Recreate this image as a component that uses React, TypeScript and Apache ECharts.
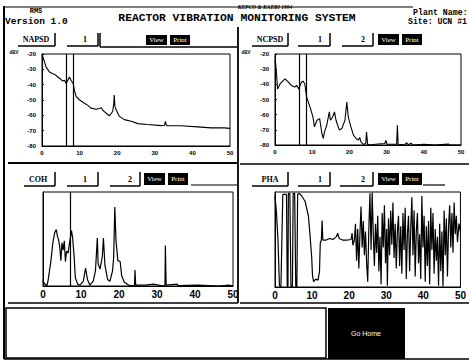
import React, { useEffect, useRef } from "react";
import * as echarts from "echarts";

// ---- data ----
const napsd: [number, number][] = [
  [0, -20], [0.5, -24], [1.1, -28.6], [2.0, -31.8], [2.9, -32.8], [3.5, -33.5], [4.2, -35], [5.0, -36.5],
  [5.5, -37.6], [6.0, -37.1], [6.4, -39.3], [7.3, -35], [7.7, -37.1], [8.3, -39.3], [8.6, -43.6],
  [9.1, -47.8], [10, -50], [11.3, -52.1], [12.2, -53.5], [13, -55.3], [14.4, -56], [15.3, -55.5],
  [15.8, -55], [16.1, -56.4], [17, -58.5], [17.9, -60.3], [18.8, -57.5], [19.1, -52], [19.2, -46.8],
  [19.4, -54], [19.7, -56.4], [20.6, -60.7], [21.9, -62.8], [23.7, -63.9], [25.5, -65.4],
  [28.1, -66], [31.7, -66.7], [32.6, -66.5], [32.8, -63.9], [33.1, -66.5], [33.4, -66.8],
  [37, -66.8], [41.4, -67.5], [45, -68.2], [48.5, -68.2], [50, -68.5],
];

const ncpsd: [number, number][] = [
  [0, -26], [0.1, -24], [0.4, -33], [0.7, -43], [1.4, -39.6], [2.7, -36.4], [3.6, -38.6], [4.4, -40.7],
  [5.3, -41.8], [5.8, -40.7], [6.4, -43], [7.1, -38.6], [7.5, -37.9], [8.0, -39.6], [8.5, -48.4],
  [9.4, -54.9], [10.2, -61.5], [10.6, -68], [11.3, -63.7], [12.0, -62.6], [12.6, -72.4], [13.0, -75.7],
  [13.3, -71.3], [13.9, -67], [14.6, -58.2], [14.9, -63.7], [15.5, -61.5], [16.0, -58.2], [16.4, -63.7],
  [17.3, -70.2], [18.0, -69], [18.8, -63.7], [19.3, -51.7], [19.7, -61.5], [20.4, -68], [21.1, -73.5],
  [21.8, -75.7], [22.4, -76.8], [22.8, -75], [23.1, -78], [23.8, -79.6], [24.4, -79], [24.6, -71.3],
  [24.9, -79.6], [25.5, -80], [27.0, -79.5], [29.5, -79], [29.8, -77], [30.1, -79.5], [32.0, -79.5],
  [32.7, -79.5], [32.9, -67], [33.1, -79.8], [35.0, -79.5], [35.4, -78.5], [35.8, -79.8], [36.6, -78.8],
  [37.0, -80], [40.0, -79.6], [43.0, -80], [46.6, -79.4], [47.0, -80], [50, -80],
];

const coh: [number, number][] = [
  [0, 0.07], [0.1, 0.04], [1.0, 0], [1.3, 0.05], [2.0, 0.24], [2.6, 0.46], [3.1, 0.57], [3.5, 0.6],
  [3.8, 0.53], [4.1, 0.49], [4.4, 0.42], [4.7, 0.27], [5.0, 0.46], [5.3, 0.38], [5.6, 0.48], [5.9, 0.26],
  [6.2, 0.37], [6.6, 0.35], [7.1, 0.49], [7.5, 0.59], [7.8, 0.51], [8.2, 0.31], [8.5, 0.09], [9.1, 0.02],
  [9.7, 0.01], [10.6, 0.05], [11.2, 0.19], [11.7, 0.07], [12.3, 0.01], [13.2, 0.05], [13.8, 0.16],
  [14.3, 0.51], [14.5, 0.24], [15.0, 0.18], [15.6, 0.31], [15.9, 0.51], [16.3, 0.22], [17.0, 0.07],
  [17.6, 0.05], [18.3, 0.16], [18.6, 0.31], [18.9, 0.84], [19.2, 0.49], [19.7, 0.27], [20.3, 0.26],
  [20.7, 0.11], [21.4, 0.04], [22.5, 0.01], [23.8, 0], [24.1, 0.01], [24.2, 0.17], [24.4, 0.01],
  [26.9, 0.01], [29.1, 0.02], [31.7, 0], [32.1, 0.01], [32.2, 0.43], [32.4, 0.01], [35.3, 0.02],
  [35.6, 0.005], [40.9, 0.01], [46.2, 0], [48.9, 0.01], [50, 0],
];

const pha: [number, number][] = [
  [0, 165], [0.4, 100], [0.8, 0], [1.2, -175], [1.6, -178], [2.1, 170], [2.6, 172], [3.1, 170],
  [3.3, -178], [3.5, -175], [3.6, 175], [4.0, 175], [4.3, -178], [4.7, -178], [4.9, 175], [5.3, 175],
  [5.6, -178], [5.9, -178], [6.1, 172], [6.6, 174], [7.2, 165], [8.1, 145], [9.0, 90], [9.4, 24],
  [9.9, -68], [10.1, -134], [10.4, -160], [11.0, -150], [11.6, -154], [12.0, -120], [12.2, -15],
  [12.5, -2], [12.7, 72], [12.9, -2], [13.8, -2], [14.7, 4], [15.6, 0], [16.5, 10], [16.9, 24],
  [17.3, 4], [18.2, -2], [19.6, -2], [20.5, 0], [20.8, 24], [21.0, -22], [21.4, -2],
  [21.7, 60], [22.0, -80], [22.3, 40], [22.6, -110], [22.9, 20], [23.2, 125], [23.5, -30], [23.8, 70],
  [24.1, -60], [24.4, 30], [24.7, -90], [25.0, -160], [25.3, 40], [25.6, 175], [25.9, -40], [26.2, 178],
  [26.5, 20], [26.8, -100], [27.1, 60], [27.4, -50], [27.7, 90], [28.0, -120], [28.3, 10], [28.6, -170],
  [28.9, 100], [29.2, -30], [29.5, 130], [29.8, -90], [30.1, 40], [30.3, -175], [30.6, 80], [30.9, -60],
  [31.2, 110], [31.5, -20], [31.8, 140], [32.1, -70], [32.4, 60], [32.7, -110], [33.0, 30], [33.3, 90],
  [33.6, -100], [33.9, 50], [34.2, -130], [34.5, 100], [34.8, -40], [35.1, 120], [35.4, -150], [35.7, 20],
  [36.0, 90], [36.3, -120], [36.6, 40], [36.9, 160], [37.2, -60], [37.5, 110], [37.8, -140], [38.1, 30],
  [38.4, 100], [38.7, -90], [39.0, 20], [39.3, -150], [39.6, 165], [39.9, -30], [40.2, 90], [40.5, -160],
  [40.8, 50], [41.1, -100], [41.4, 70], [41.7, -170], [42.0, 120], [42.3, -40], [42.6, 100], [42.9, -130],
  [43.2, 40], [43.5, -80], [43.8, 10], [44.1, -175], [44.4, 60], [44.7, -120], [45.0, 30], [45.3, -178],
  [45.6, 110], [45.9, -60], [46.2, 80], [46.5, -140], [46.8, 50], [47.1, 130], [47.4, -30], [47.7, 100],
  [48.0, -50], [48.3, 140], [48.6, 20], [48.9, 90], [49.2, -10], [49.6, 60], [50, 30],
];

const psdCursors = [6.4, 8.3];
const cohCursors = [7.2];

const panelNames = ["NAPSD", "NCPSD", "COH", "PHA"];
const channelOne = "1";
const channelTwo = "2";
const titleText = "REACTOR VIBRATION MONITORING SYSTEM";

const MONO = "'Liberation Mono', 'DejaVu Sans Mono', monospace";
const SERIF = "'Liberation Serif', 'DejaVu Serif', serif";
const SANS = "'Liberation Sans', Arial, sans-serif";

function txt(x: number, y: number, text: string, font: string, fill = "#000", align = "center") {
  return {
    type: "text",
    x,
    y,
    z: 10,
    style: { text, font, fill, textAlign: align, textVerticalAlign: "middle", verticalAlign: "middle" },
  };
}
function ln(x1: number, y1: number, x2: number, y2: number, w = 1.5) {
  return { type: "line", z: 10, shape: { x1, y1, x2, y2 }, style: { stroke: "#000", lineWidth: w } };
}
function box(x: number, y: number, width: number, height: number, fill = "#000", stroke?: string) {
  return {
    type: "rect",
    z: 9,
    shape: { x, y, width, height },
    style: stroke ? { fill, stroke, lineWidth: 1.5 } : { fill },
  };
}
function button(x1: number, x2: number, y1: number, y2: number, label: string, tx: number) {
  return [
    ln(x2, y1, x2, y2, 1.5),
    ln(x1, y2, x2, y2, 1.5),
    txt(tx, (y1 + y2) / 2, label, `bold 8px ${SERIF}`),
  ];
}
function viewPrint(x: number, y1: number, y2: number) {
  return [
    box(x, y1, 21, y2 - y1),
    box(x + 24, y1, 20, y2 - y1),
    txt(x + 10.5, (y1 + y2) / 2, "View", `7px ${SERIF}`, "#fff"),
    txt(x + 34, (y1 + y2) / 2, "Print", `7px ${SERIF}`, "#fff"),
  ];
}

export default function App() {
  const ref = useRef<HTMLDivElement>(null);
  useEffect(() => {
    if (!ref.current) return;
    const chart = echarts.init(ref.current, undefined, { renderer: "svg" });

    const grids = [
      { left: 42, top: 54, width: 188, height: 92 },
      { left: 275, top: 54, width: 186, height: 91 },
      { left: 43, top: 192, width: 190, height: 94 },
      { left: 275, top: 192, width: 186, height: 95 },
    ].map((g) => ({ ...g, show: true, borderColor: "#000", borderWidth: 1, backgroundColor: "#fff" }));

    const smallLabel = { fontSize: 6, fontWeight: "bold", fontFamily: SANS, color: "#000" };
    const bigLabel = { fontSize: 10, fontWeight: "bold", fontFamily: SANS, color: "#000" };

    const xAxes = [0, 1, 2, 3].map((i) => ({
      type: "value",
      gridIndex: i,
      min: 0,
      max: 50,
      interval: 10,
      axisLine: { show: true, onZero: false, lineStyle: { color: "#000", width: 1 } },
      axisTick: { show: false },
      splitLine: { show: false },
      axisLabel: i < 2 ? { ...smallLabel, margin: 4 } : { ...bigLabel, margin: 3 },
    }));
    const yAxes = [
      { min: -80, max: -20, interval: 10, labels: true },
      { min: -80, max: -20, interval: 10, labels: true },
      { min: 0, max: 1, interval: 0.5, labels: false },
      { min: -180, max: 180, interval: 90, labels: false },
    ].map((a, i) => ({
      type: "value",
      gridIndex: i,
      min: a.min,
      max: a.max,
      interval: a.interval,
      axisLine: { show: true, onZero: false, lineStyle: { color: "#000", width: 1 } },
      axisTick: { show: a.labels, inside: true, length: 2, lineStyle: { color: "#000" } },
      splitLine: { show: false },
      axisLabel: a.labels ? { ...smallLabel, margin: 6 } : { show: false },
    }));

    const mk = (vals: number[]) => ({
      symbol: "none",
      silent: true,
      label: { show: false },
      lineStyle: { color: "#000", type: "solid", width: 1.2 },
      data: vals.map((v) => ({ xAxis: v })),
    });

    const datasets = [napsd, ncpsd, coh, pha];
    const series = datasets.map((d, i) => ({
      type: "line",
      xAxisIndex: i,
      yAxisIndex: i,
      data: d,
      showSymbol: false,
      symbol: "none",
      lineStyle: { color: "#000", width: i < 2 ? 1.1 : 1.2 },
      markLine: i < 2 ? mk(psdCursors) : i === 2 ? mk(cohCursors) : undefined,
    }));

    const topY1 = 33, topY2 = 46, botY1 = 172, botY2 = 186;
    const graphic: any[] = [
      // frame
      ln(4, 6, 4, 359, 2),
      ln(4, 7, 413, 7, 1.2),
      ln(4, 359, 469, 359, 1.5),
      ln(238, 27, 238, 303, 1.8),
      ln(8, 163, 238, 163, 1.8),
      ln(240, 164, 469, 164, 1.5),
      ln(8, 303, 238, 303, 1.5),
      ln(240, 303, 469, 303, 1.5),
      // header
      txt(36, 11, "RMS", `bold 7px ${MONO}`),
      txt(5, 21, "Version 1.0", `bold 9.5px ${MONO}`, "#000", "left"),
      txt(265, 7, "KEPCO & KAERI 1994", `italic bold 5.5px ${SERIF}`),
      txt(237, 18, titleText, `bold 11.3px ${MONO}`),
      txt(413, 12, "Plant Name:", `bold 8.3px ${MONO}`, "#000", "left"),
      txt(408, 21, "Site: UCN #1", `bold 8.2px ${MONO}`, "#000", "left"),
      // dBV unit labels
      txt(14, 52, "dBV", `bold 4.5px ${SANS}`),
      txt(246, 52, "dBV", `bold 4.5px ${SANS}`),
      // panel 1 buttons
      ...button(18, 55, topY1, topY2, panelNames[0], 36),
      ...button(67, 98, topY1, topY2, channelOne, 85),
      ln(100, topY1, 100, topY2 + 1, 1.5),
      ln(100, topY2 + 1, 237, topY2 + 1, 1.5),
      ...viewPrint(146, 35, 45),
      // panel 2 buttons
      ...button(252, 288, topY1, topY2, panelNames[1], 270),
      ...button(298, 330, topY1, topY2, channelOne, 320),
      ...button(342, 373, topY1, topY2, channelTwo, 363),
      ...viewPrint(378, 34, 45),
      // panel 3 buttons
      ...button(24, 55, botY1, botY2, panelNames[2], 38),
      ...button(67, 98, botY1, botY2, channelOne, 85),
      ...button(110, 140, botY1, botY2, channelTwo, 130),
      ...viewPrint(144, 173, 185),
      ln(191, botY2 - 1, 237, botY2 - 1, 1.2),
      // panel 4 buttons
      ...button(252, 288, botY1, botY2, panelNames[3], 270),
      ...button(298, 330, botY1, botY2, channelOne, 320),
      ...button(340, 373, botY1, botY2, channelTwo, 363),
      ...viewPrint(378, 173, 185),
      ln(423, botY2 - 1, 445, botY2 - 1, 1.2),
      // bottom area
      box(6, 308, 320, 50, "#fff", "#000"),
      box(328, 308, 77, 51, "#000"),
      txt(366, 333, "Go Home", `7px ${SANS}`, "#fff"),
    ];

    chart.setOption({
      animation: false,
      backgroundColor: "#fff",
      grid: grids,
      xAxis: xAxes,
      yAxis: yAxes,
      series,
      graphic,
    } as any);
    return () => chart.dispose();
  }, []);

  return (
    <div
      ref={ref}
      style={{ position: "absolute", left: 0, top: 0, width: 469, height: 361, background: "#fff" }}
    />
  );
}
